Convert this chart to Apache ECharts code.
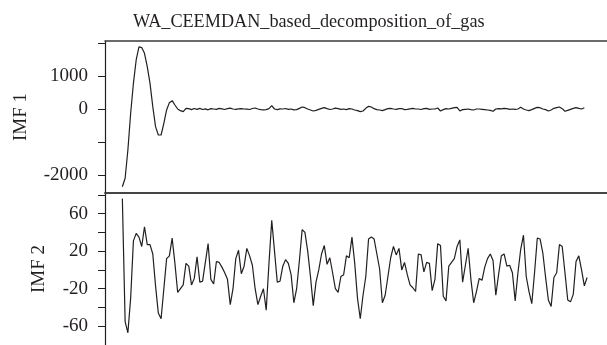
<!DOCTYPE html>
<html>
<head>
<meta charset="utf-8">
<script src="https://cdn.jsdelivr.net/npm/echarts@6/dist/echarts.min.js"></script>
<style>html,body{margin:0;padding:0;background:#fff}#c{width:607px;height:345px}</style>
</head>
<body>
<div id="c"></div>
<script>
const titleText = "WA_CEEMDAN_based_decomposition_of_gas";
const imf1Name = "IMF 1";
const imf2Name = "IMF 2";
const imf1Ticks = [-2000, -1000, 0, 1000, 2000];
const imf1Labels = [-2000, 0, 1000];
const imf2Ticks = [-60, -40, -20, 0, 20, 40, 60, 80];
const imf2Labels = [-60, -20, 20, 60];

const imf1 = [
  -2354, -2100, -1242, -131, 778, 1485, 1880, 1860, 1687, 1283, 778, 70,
  -535, -788, -788, -434, -30, 192, 253, 121, 0, -50, -80, 20,
  10, -20, 15, -10, 20, -15, 5, -25, 10, 0, -10, 20,
  5, -15, 10, 25, 0, -10, 5, 10, 0, -5, -15, 15,
  30, 0, -20, -25, -20, 10, 100, 0, -20, 5, 0, 15,
  -10, 0, -25, -20, 20, 60, 40, 0, -30, -60, -40, -10,
  20, 40, 10, -15, 0, 25, 10, -10, 0, -20, 10, 0,
  -30, -50, -80, -60, 20, 80, 60, 10, -20, -30, -50, -20,
  10, 20, 0, -10, 10, 15, -20, -10, 5, 20, 0, 0,
  -15, 10, 20, -10, 0, 0, 30, -60, -20, 10, 0, 20,
  40, 50, -60, -20, -10, 0, -20, -30, 0, 0, -10, -20,
  -30, -40, -70, 0, 10, 5, 20, 10, -10, 0, -10, 0,
  50, 0, -30, -50, -20, 20, 50, 40, 0, -20, -60, -30,
  20, 40, 60, 10, -70, -40, -10, 20, 40, 20, 0, 40
];

const imf2 = [
  76, -55, -67, -30, 31, 39, 35, 25, 46, 27, 27, 17,
  -17, -46, -52, -20, 12, 15, 34, 7, -24, -20, -16, 7,
  4, -16, -9, 14, -13, -12, 8, 28, -10, -15, 9, 8,
  3, -3, -10, -37, -20, 12, 21, -4, 4, 23, 15, 5,
  -20, -37, -28, -20, -43, 7, 53, 20, -13, -12, 4, 11,
  7, -5, -35, -20, 10, 43, 40, 20, -7, -38, -13, 0,
  17, 26, 6, 13, -3, -20, -24, -7, -5, 15, 13, 35,
  7, -30, -52, -27, -7, 33, 35, 33, 17, 1, -35, -27,
  -7, 13, 25, 16, 23, 0, 8, -5, -16, -19, -23, 17,
  16, -2, 8, 7, -22, -10, 28, 26, -28, -33, 4, 8,
  12, 25, 32, -13, 5, 23, -10, -35, -23, -9, -11, 3,
  12, 17, 10, -27, -5, 15, 17, 4, 5, -3, -33, -3,
  22, 37, -7, -23, -36, -3, 34, 33, 18, -8, -32, -39,
  -8, -3, 27, 25, -3, -32, -34, -26, 9, 15, 0, -17,
  -8
];

const xIdx1 = imf1.map((v, i) => [i, v]);
const xIdx2 = imf2.map((v, i) => [i, v]);
const n = imf2.length;
const gridW = 512;
const pxPer = (596.7 - 122.7) / (n - 1);
const xMin = -(122.7 - 105) / pxPer;
const xMax = xMin + gridW / pxPer;

const serif = "Liberation Serif";
const ink = '#231f20';
const frame = '#3a3a3a';
const chart = echarts.init(document.getElementById('c'), null, {renderer: 'canvas'});

function yAxisCommon(ticks, labels, name, gap) {
  return {
    type: 'value',
    name: name,
    nameLocation: 'middle',
    nameGap: gap,
    nameRotate: 90,
    nameTextStyle: {fontFamily: serif, fontSize: 19, color: ink},
    splitLine: {show: false},
    axisLine: {show: true, onZero: false, lineStyle: {color: ink, width: 1.2}},
    axisTick: {show: true, length: 7, customValues: ticks, lineStyle: {color: ink, width: 1}},
    axisLabel: {customValues: labels, formatter: v => String(v), margin: 17, fontFamily: serif, fontSize: 19, color: ink}
  };
}
function frameX(gridIndex, position) {
  return {
    type: 'value', gridIndex: gridIndex, position: position, min: xMin, max: xMax,
    axisLine: {show: true, onZero: false, lineStyle: {color: frame, width: 1.5}},
    axisTick: {show: false}, axisLabel: {show: false}, splitLine: {show: false}
  };
}

chart.setOption({
  animation: false,
  backgroundColor: '#fff',
  title: {
    text: titleText,
    left: 128, top: 8,
    textStyle: {fontFamily: serif, fontSize: 18.2, fontWeight: 'normal', color: ink}
  },
  grid: [
    {left: 105, top: 41, width: gridW, height: 152},
    {left: 105, top: 193, width: gridW, height: 162}
  ],
  xAxis: [
    frameX(0, 'top'),
    frameX(0, 'bottom'),
    frameX(1, 'top')
  ],
  yAxis: [
    Object.assign(yAxisCommon(imf1Ticks, imf1Labels, imf1Name, 74), {gridIndex: 0, min: -2545, max: 2060}),
    Object.assign(yAxisCommon(imf2Ticks, imf2Labels, imf2Name, 56), {gridIndex: 1, min: -80, max: 82})
  ],
  series: [
    {type: 'line', xAxisIndex: 0, yAxisIndex: 0, data: xIdx1, showSymbol: false, lineStyle: {color: ink, width: 1.2}},
    {type: 'line', xAxisIndex: 2, yAxisIndex: 1, data: xIdx2, showSymbol: false, lineStyle: {color: ink, width: 1.2}}
  ]
});
</script>
</body>
</html>
